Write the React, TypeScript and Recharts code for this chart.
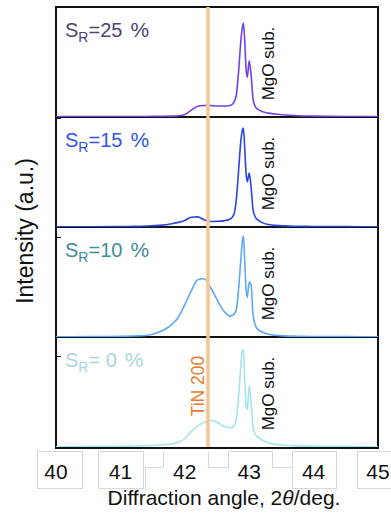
import { LineChart, Line, XAxis, YAxis, ReferenceLine } from 'recharts';

// 2-theta grid shared by all four scans
const angles = [40, 40.5, 41, 41.2, 41.4, 41.6, 41.8, 41.9, 42, 42.1, 42.2, 42.3, 42.4, 42.5, 42.6, 42.7, 42.76, 42.8, 42.84, 42.87, 42.89, 42.91, 42.93, 42.95, 42.97, 43, 43.03, 43.06, 43.1, 43.15, 43.2, 43.3, 43.4, 43.55, 43.75, 44, 44.5, 45];

// normalised intensities, one array per sample
const sr25 = [0.003, 0.003, 0.004, 0.004, 0.005, 0.006, 0.008, 0.011, 0.022, 0.062, 0.097, 0.105, 0.105, 0.1, 0.1, 0.105, 0.13, 0.2, 0.45, 0.69, 0.8, 0.855, 0.7, 0.45, 0.36, 0.51, 0.38, 0.16, 0.09, 0.065, 0.05, 0.035, 0.027, 0.018, 0.012, 0.008, 0.004, 0.003];
const sr15 = [0.002, 0.002, 0.004, 0.006, 0.009, 0.015, 0.03, 0.042, 0.06, 0.088, 0.092, 0.066, 0.05, 0.052, 0.056, 0.07, 0.11, 0.25, 0.55, 0.78, 0.87, 0.9, 0.72, 0.5, 0.41, 0.49, 0.36, 0.155, 0.085, 0.058, 0.04, 0.022, 0.015, 0.01, 0.007, 0.005, 0.003, 0.002];
const sr10 = [0.002, 0.003, 0.006, 0.009, 0.014, 0.045, 0.115, 0.18, 0.295, 0.42, 0.52, 0.53, 0.45, 0.34, 0.24, 0.19, 0.205, 0.25, 0.47, 0.7, 0.85, 0.92, 0.7, 0.45, 0.36, 0.5, 0.47, 0.2, 0.1, 0.06, 0.045, 0.025, 0.016, 0.01, 0.007, 0.004, 0.003, 0.002];
const sr0 = [0.002, 0.003, 0.006, 0.009, 0.013, 0.018, 0.028, 0.045, 0.075, 0.14, 0.19, 0.222, 0.243, 0.225, 0.19, 0.175, 0.19, 0.26, 0.5, 0.74, 0.87, 0.885, 0.62, 0.38, 0.34, 0.555, 0.4, 0.18, 0.11, 0.085, 0.065, 0.038, 0.025, 0.016, 0.01, 0.006, 0.003, 0.002];

const labels = ['=25', '=15', '=10', '= 0'];
const xTicks = [40, 41, 42, 43, 44, 45];
const tinAngle = 42.36;

const panels = [
  { values: sr25, line: '#7241e3', text: '#4b4774', top: 7 },
  { values: sr15, line: '#2a44df', text: '#2f56e6', top: 117 },
  { values: sr10, line: '#5ca9f4', text: '#3f8c9b', top: 227 },
  { values: sr0, line: '#a2e5ef', text: '#a9d6de', top: 337 },
];

const FONT = '"Liberation Sans", Arial, sans-serif';

function Panel({ values, color, top, last }: { values: number[]; color: string; top: number; last: boolean }) {
  const rows = angles.map((a, i) => ({ angle: a, v: values[i] }));
  return (
    <div style={{ position: 'absolute', left: 0, top }}>
      <LineChart width={391} height={last ? 170 : 110} data={rows} margin={{ top: 0, right: 13, bottom: 0, left: 56 }}>
        <XAxis xAxisId="t" dataKey="angle" type="number" domain={[40, 45]} ticks={[41, 42, 43, 44]} orientation="top" mirror axisLine={false} tick={false} tickSize={4} stroke="#111" />
        <XAxis xAxisId="b" dataKey="angle" type="number" domain={[40, 45]} ticks={[41, 42, 43, 44]} orientation="bottom" mirror axisLine={false} tick={false} tickSize={4} stroke="#111" />
        {last && (
          <XAxis xAxisId="lab" dataKey="angle" type="number" domain={[40, 45]} ticks={xTicks} interval={0} orientation="bottom" height={60} axisLine={false} tickLine={false} tickSize={0} tickMargin={17} tick={{ fontSize: 21, fill: '#111', fontFamily: FONT }} />
        )}
        <YAxis type="number" domain={[0, 1]} hide allowDataOverflow />
        <Line xAxisId="b" type="monotone" dataKey="v" stroke={color} strokeWidth={1.6} dot={false} isAnimationActive={false} />
        <ReferenceLine xAxisId="b" x={tinAngle} stroke="#f7c390" strokeWidth={3.5} />
      </LineChart>
    </div>
  );
}

export default function App() {
  return (
    <div style={{ position: 'absolute', left: 0, top: 0, width: 391, height: 513, background: '#fff', fontFamily: FONT }}>
      {/* frame */}
      <div style={{ position: 'absolute', left: 55, top: 6, width: 320, height: 439, border: '2px solid #111' }} />
      {[116, 226, 336].map((y) => (
        <div key={y} style={{ position: 'absolute', left: 55, top: y, width: 324, height: 2, background: '#111' }} />
      ))}
      {[118, 237, 356].map((y) => (
        <div key={'s' + y} style={{ position: 'absolute', left: 57, top: y, width: 4, height: 1, background: '#111' }} />
      ))}

      {panels.map((p, i) => (
        <Panel key={i} values={p.values} color={p.line} top={p.top} last={i === panels.length - 1} />
      ))}

      <svg width={391} height={513} style={{ position: 'absolute', left: 0, top: 0, pointerEvents: 'none' }} fontFamily={FONT}>
        {/* stray label boxes */}
        <g fill="none" stroke="#d8d8d8" strokeWidth={1}>
          <rect x={37.5} y={451.5} width={45} height={37} />
          <rect x={98.5} y={451.5} width={45} height={37} />
          <path d="M145.5,491 V467.5 H163.5 V451.5" />
          <path d="M208.5,451.5 V467.5 H228.5 V451.5 H272.5 V467.5 H292.5" />
          <rect x={292.5} y={451.5} width={44} height={37} />
          <rect x={357.5} y={451.5} width={40} height={37} />
        </g>

        {panels.map((p, i) => (
          <g key={i}>
            <text x={65} y={p.top + 30} fontSize={20} fill={p.text} style={{ whiteSpace: 'pre' }}>
              S<tspan fontSize={14} dy={5}>R</tspan>
              <tspan dy={-5}>{labels[i]}</tspan>
              <tspan dx={8} fontSize={21}>%</tspan>
            </text>
            <text x={274} y={p.top + 56.5} fontSize={17} fill="#111" textAnchor="middle" transform={`rotate(-90 274 ${p.top + 56.5})`}>
              MgO sub.
            </text>
          </g>
        ))}

        <text x={204} y={386} fontSize={17.5} fill="#e47c30" textAnchor="middle" transform="rotate(-90 204 386)">
          TiN 200
        </text>

        <text x={33} y={231} fontSize={23} fill="#111" textAnchor="middle" transform="rotate(-90 33 231)">
          Intensity (a.u.)
        </text>

        <text x={224} y={505} fontSize={21} fill="#111" textAnchor="middle">
          Diffraction angle, 2<tspan fontStyle="italic">θ</tspan>/deg.
        </text>
      </svg>
    </div>
  );
}
